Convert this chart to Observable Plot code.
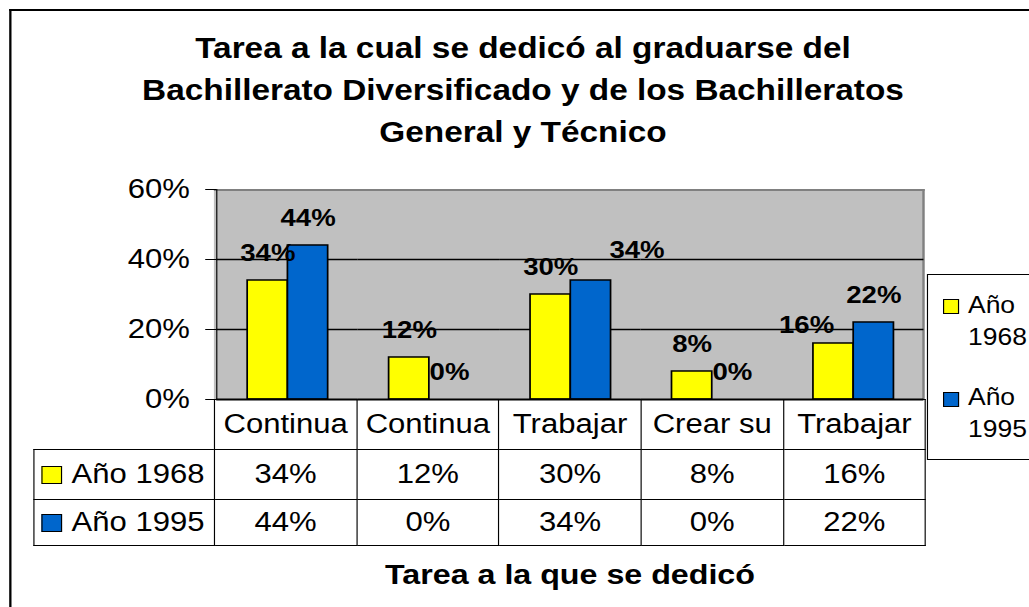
<!DOCTYPE html>
<html>
<head>
<meta charset="utf-8">
<script src="https://cdn.jsdelivr.net/npm/d3@7"></script>
<script src="https://cdn.jsdelivr.net/npm/@observablehq/plot@0.6"></script>
<style>
  html, body { margin: 0; padding: 0; background: #fff; overflow: hidden; width: 1029px; height: 607px; }
  #stage { position: absolute; left: 0; top: 0; height: 607px; transform-origin: 0 0;
           font-family: "Liberation Sans", Arial, sans-serif; color: #000; }
  #stage > * { position: absolute; }
  .title { font-weight: bold; font-size: 29px; line-height: 42px; text-align: center; white-space: nowrap; }
  .xtitle { font-weight: bold; font-size: 28px; line-height: 28px; text-align: center; white-space: nowrap; }
  table.dt { border-collapse: collapse; table-layout: fixed; font-size: 27px; }
  table.dt td { border: 1.5px solid #000; padding: 0; text-align: center; vertical-align: middle; line-height: 1; white-space: nowrap; overflow: hidden; }
  table.dt td.blank { border: none; }
  table.dt td.head { text-align: left; }
  .sw { display: inline-block; box-sizing: border-box; border: 1.5px solid #000; vertical-align: middle; }
  .legbox { box-sizing: border-box; border: 1.5px solid #000; background: #fff; }
  .legtext { font-size: 23px; line-height: 32px; white-space: nowrap; }
</style>
</head>
<body>
<div id="stage"></div>
<script>
// ---------- data ----------
const titleLines = ["Tarea a la cual se dedicó al graduarse del",
                    "Bachillerato Diversificado y de los Bachilleratos",
                    "General y Técnico"];
const xAxisTitle = "Tarea a la que se dedicó";
const categories = ["Continua", "Continua", "Trabajar", "Crear su", "Trabajar"];
const seriesNames = ["Año 1968", "Año 1995"];
const values1968 = [0.34, 0.12, 0.30, 0.08, 0.16];
const values1995 = [0.44, 0.00, 0.34, 0.00, 0.22];
const seriesColors = ["#FFFF00", "#0066CC"];
const yTicks = [0, 0.2, 0.4, 0.6];

const seriesValues = [values1968, values1995];
const rows = [];
categories.forEach((c, i) => {
  seriesNames.forEach((s, k) => rows.push({idx: i, cat: c, serie: s, value: seriesValues[k][i]}));
});
const fmt = d3.format(".0%");

// ---------- layout (reference pixels; horizontal values divided by S) ----------
const S = 1.15;
const sx = v => v / S;
const W = 1029;
const plotLeft = 214, plotRight = 925, plotTop = 189, plotBottom = 399;
const svgH = 430;
// two value labels that the original chart places away from their bar
const labelNudges = [
  {idx: 2, serie: "Año 1995", dx: 46, dy: -3},
  {idx: 4, serie: "Año 1968", dx: -27, dy: 9}
];
const isNudged = d => labelNudges.some(n => n.idx === d.idx && n.serie === d.serie);

const stage = document.getElementById("stage");
stage.style.width = sx(W) + "px";
stage.style.transform = `scaleX(${S})`;

// outer chart border
const outer = document.createElement("div");
Object.assign(outer.style, {left: sx(9) + "px", top: "9px", width: sx(1200) + "px", height: "800px",
  borderLeft: "2px solid #000", borderTop: "2px solid #000", boxSizing: "border-box"});
stage.appendChild(outer);

// title
const title = document.createElement("div");
title.className = "title";
title.innerHTML = titleLines.join("<br>");
Object.assign(title.style, {left: sx(523 - 450) + "px", width: sx(900) + "px", top: "27px"});
stage.appendChild(title);

// plot-area background (gray wall) with gray top/right edges
const wall = document.createElement("div");
Object.assign(wall.style, {left: sx(plotLeft) + "px", top: plotTop + "px",
  width: sx(plotRight - plotLeft) + "px", height: (plotBottom - plotTop) + "px",
  background: "#C0C0C0", boxSizing: "border-box", borderTop: "2px solid #808080", borderRight: "2px solid #808080"});
stage.appendChild(wall);

// ---------- the Plot chart ----------
const labelBase = {x: "serie", y: "value", text: d => fmt(d.value), lineAnchor: "bottom",
  fontSize: 24, fontWeight: "bold", fill: "#000"};
const chart = Plot.plot({
  width: sx(W),
  height: svgH,
  marginLeft: sx(plotLeft),
  marginRight: sx(W - plotRight),
  marginTop: plotTop,
  marginBottom: svgH - plotBottom,
  style: {fontFamily: '"Liberation Sans", Arial, sans-serif', fontSize: "27px", background: "transparent", overflow: "visible", color: "#000"},
  facet: {data: rows, x: "idx"},
  fx: {domain: d3.range(categories.length), padding: 0, axis: null},
  x: {domain: seriesNames, paddingInner: 0, paddingOuter: 0.734, axis: null},
  y: {domain: [0, 0.6], ticks: yTicks, tickFormat: fmt, tickSize: sx(11), tickPadding: sx(16), line: true, label: null},
  color: {domain: seriesNames, range: seriesColors},
  marks: [
    Plot.ruleY([0.2, 0.4], {stroke: "#000", strokeWidth: 1.5}),
    Plot.barY(rows, {x: "serie", y: "value", fill: "serie", stroke: "#000", strokeWidth: 1.5}),
    Plot.ruleY([0], {stroke: "#000", strokeWidth: 2}),
    Plot.text(rows, {...labelBase, filter: d => !isNudged(d), dy: -19}),
    ...labelNudges.map(n => Plot.text(rows, {...labelBase,
      filter: d => d.idx === n.idx && d.serie === n.serie, dx: sx(n.dx), dy: -19 + n.dy}))
  ]
});
chart.style.left = "0px";
chart.style.top = "0px";
stage.appendChild(chart);

// ---------- data table ----------
const tableLeft = 33;
const colW = (plotRight - plotLeft) / categories.length;
const tbl = document.createElement("table");
tbl.className = "dt";
Object.assign(tbl.style, {left: sx(tableLeft) + "px", top: plotBottom + "px", width: sx(plotRight - tableLeft) + "px"});
const cg = document.createElement("colgroup");
[plotLeft - tableLeft, ...categories.map(() => colW)].forEach(w => {
  const col = document.createElement("col"); col.style.width = sx(w) + "px"; cg.appendChild(col);
});
tbl.appendChild(cg);
const tr0 = document.createElement("tr");
tr0.style.height = "50px";
const blank = document.createElement("td"); blank.className = "blank"; tr0.appendChild(blank);
categories.forEach(c => { const td = document.createElement("td"); td.textContent = c; tr0.appendChild(td); });
tbl.appendChild(tr0);
seriesNames.forEach((s, k) => {
  const tr = document.createElement("tr");
  tr.style.height = (k === 0 ? 50 : 46) + "px";
  const th = document.createElement("td");
  th.className = "head";
  th.innerHTML = `<span class="sw" style="width:${sx(20)}px;height:18px;margin-left:${sx(7.5)}px;margin-right:${sx(10)}px;background:${seriesColors[k]}"></span><span style="vertical-align:middle">${s}</span>`;
  tr.appendChild(th);
  seriesValues[k].forEach(v => { const td = document.createElement("td"); td.textContent = fmt(v); tr.appendChild(td); });
  tbl.appendChild(tr);
});
stage.appendChild(tbl);

// x-axis title
const xt = document.createElement("div");
xt.className = "xtitle";
xt.textContent = xAxisTitle;
Object.assign(xt.style, {left: sx(570 - 300) + "px", width: sx(600) + "px", top: "561px"});
stage.appendChild(xt);

// ---------- legend ----------
const leg = document.createElement("div");
leg.className = "legbox";
Object.assign(leg.style, {left: sx(927) + "px", top: "274px", width: sx(140) + "px", height: "186px"});
stage.appendChild(leg);
const swTops = [299, 392];
const txtTops = [289, 381];
seriesNames.forEach((s, k) => {
  const sw = document.createElement("div");
  sw.className = "sw";
  Object.assign(sw.style, {left: sx(943) + "px", top: swTops[k] + "px", width: sx(16.5) + "px", height: "15px", background: seriesColors[k]});
  stage.appendChild(sw);
  const t = document.createElement("div");
  t.className = "legtext";
  t.innerHTML = s.split(" ").join("<br>");
  Object.assign(t.style, {left: sx(968) + "px", top: txtTops[k] + "px"});
  stage.appendChild(t);
});
</script>
</body>
</html>
